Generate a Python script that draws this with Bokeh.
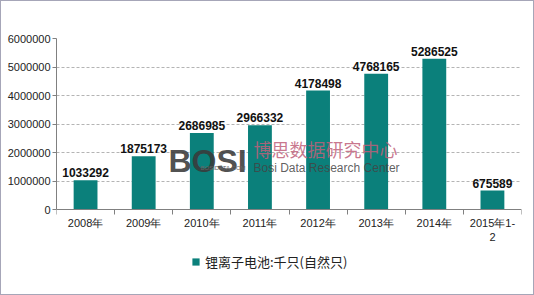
from bokeh.plotting import figure
from bokeh.models import (ColumnDataSource, FixedTicker, LinearAxis, Range1d,
                          Legend, LegendItem, Label, LabelSet)
from bokeh.core.properties import value
from bokeh.embed import file_html
from bokeh.resources import INLINE

categories = ["2008年", "2009年", "2010年", "2011年", "2012年", "2013年", "2014年", "2015年1-\n2"]
values = [1033292, 1875173, 2686985, 2966332, 4178498, 4768165, 5286525, 675589]
y_ticks = [0, 1000000, 2000000, 3000000, 4000000, 5000000, 6000000]
series_name = "锂离子电池:千只(自然只)"

TEAL = "#0b807b"
FONT = "Liberation Sans"

xs = [i + 0.5 for i in range(len(categories))]
bounds = list(range(len(categories) + 1))
src = ColumnDataSource(dict(x=xs, top=values, label=[str(v) for v in values]))

# frame spans from top margin to the bottom edge; value 0 sits 86 px above the bottom
Y_MIN = -6000000 * 86 / 170
p = figure(width=534, height=295, output_backend="svg", toolbar_location=None,
           x_range=Range1d(0, len(categories)), y_range=Range1d(Y_MIN, 6000000),
           min_border_left=55, min_border_right=14, min_border_top=37,
           min_border_bottom=0, x_axis_location=None, y_axis_location=None,
           styles={"border": "1px solid #a6a6b8", "box-sizing": "border-box"})
p.outline_line_color = None
p.background_fill_color = "white"
p.border_fill_color = "white"

# y axis
yax = LinearAxis(ticker=FixedTicker(ticks=y_ticks), bounds=(0, 6000000))
yax.formatter.use_scientific = False
yax.major_label_text_font = FONT
yax.major_label_text_font_size = "11px"
yax.major_label_text_color = "#222222"
yax.axis_line_color = "#808080"
yax.major_tick_line_color = "#808080"
yax.major_tick_in = 0
yax.major_tick_out = 4
yax.minor_tick_line_color = None
yax.major_label_standoff = 2
p.add_layout(yax, "left")

# x axis at value 0: labels at category centers, tick marks at category boundaries
xax = LinearAxis(ticker=FixedTicker(ticks=xs, minor_ticks=bounds), fixed_location=0)
xax.major_label_overrides = {x: c for x, c in zip(xs, categories)}
xax.major_label_text_font = FONT
xax.major_label_text_font_size = "11px"
xax.major_label_text_color = "#222222"
xax.axis_line_color = "#808080"
xax.major_tick_line_color = None
xax.minor_tick_line_color = "#808080"
xax.minor_tick_in = 0
xax.minor_tick_out = 5
xax.major_label_standoff = 1
p.add_layout(xax, "below")

p.xgrid.visible = False
p.ygrid.ticker = FixedTicker(ticks=y_ticks[1:])
p.ygrid.grid_line_color = "#b4b4b4"
p.ygrid.grid_line_dash = "3 2"

bars = p.vbar(x="x", top="top", width=0.41, source=src, fill_color=TEAL, line_color=None)

labels = LabelSet(x="x", y="top", text="label", source=src, text_align="center",
                  text_baseline="bottom", y_offset=3, text_font=value(FONT),
                  text_font_size=value("12px"), text_font_style=value("bold"),
                  text_color=value("#111111"))
p.add_layout(labels)

# watermark (screen units relative to the plot frame's bottom-left)
p.add_layout(Label(x=112, y=136, x_units="screen", y_units="screen", text="BOSI",
                   text_font=FONT, text_font_size="32px", text_font_style="bold",
                   text_baseline="alphabetic", text_color="#3a3a3a", text_alpha=0.9))
p.add_layout(Label(x=144, y=129, x_units="screen", y_units="screen", text="BOSIDATA.COM",
                   text_font=FONT, text_font_size="6px", text_baseline="alphabetic",
                   text_color="#666666"))
p.add_layout(Label(x=197, y=148, x_units="screen", y_units="screen", text="博思数据研究中心",
                   text_font="Noto Sans CJK SC", text_font_size="18px",
                   text_baseline="alphabetic", text_color="#c0607a", text_alpha=0.85))
p.add_layout(Label(x=197, y=129, x_units="screen", y_units="screen",
                   text="Bosi Data Research Center", text_font=FONT, text_font_size="12px",
                   text_baseline="alphabetic", text_color="#444444", text_alpha=0.85))

legend = Legend(items=[LegendItem(label=series_name, renderers=[bars])],
                location=(135, 25), orientation="horizontal",
                label_text_font="Noto Sans CJK SC", label_text_font_size="13px",
                label_text_color="#222222", glyph_width=9, glyph_height=9,
                border_line_color=None, background_fill_alpha=0, padding=2, margin=0)
p.add_layout(legend, "center")

open("out.html", "w").write(file_html(p, INLINE))
